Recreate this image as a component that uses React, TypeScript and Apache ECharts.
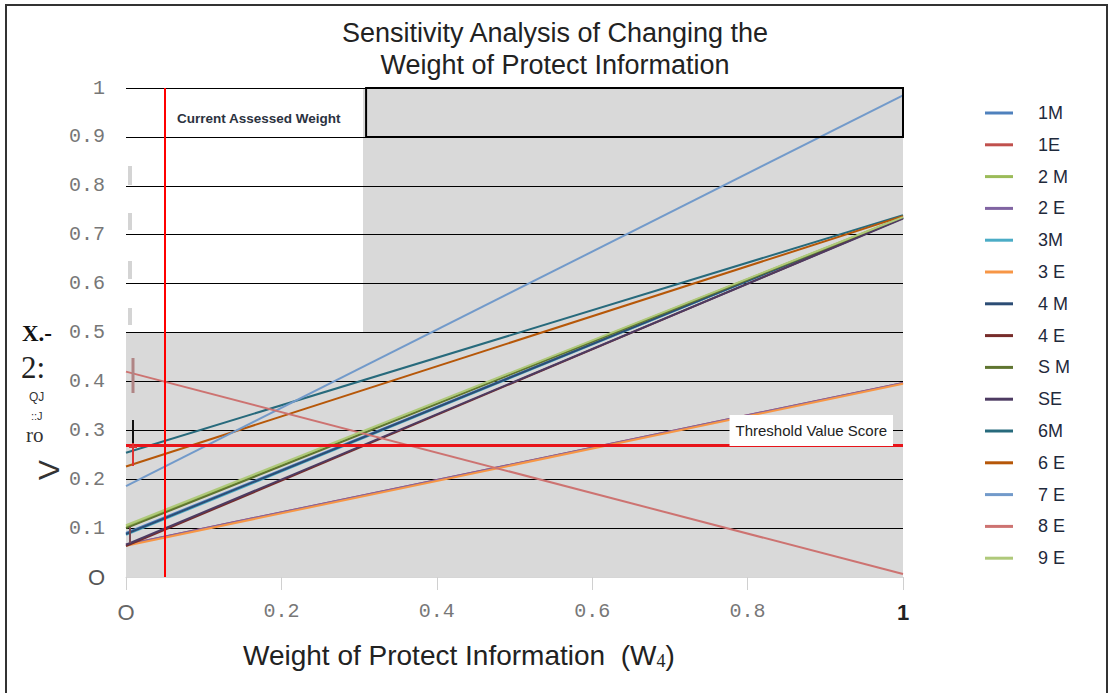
import React, { useEffect, useRef } from "react";
import * as echarts from "echarts";

// W4 values at which each line is evaluated
const weights = [0, 1];
const seriesNames = ["1M", "1E", "2 M", "2 E", "3M", "3 E", "4 M", "4 E", "S M", "SE", "6M", "6 E", "7 E", "8 E", "9 E"];
// value score at W4 = 0
const scoreAtZero = [0.09, 0.066, 0.103, 0.066, 0.086, 0.064, 0.088, 0.063, 0.1, 0.066, 0.254, 0.226, 0.186, 0.42, 0.106];
// value score at W4 = 1
const scoreAtOne = [0.735, 0.397, 0.736, 0.397, 0.735, 0.395, 0.735, 0.734, 0.735, 0.733, 0.74, 0.738, 0.985, 0.006, 0.736];
const seriesColors = ["#4F81BD", "#C0504D", "#9BBB59", "#8064A2", "#4BACC6", "#F79646", "#2C4D75", "#772C2A", "#5F7530", "#4D3B62", "#276A7C", "#B65708", "#729ACA", "#CD7371", "#AFC97A"];

const currentWeight = 0.048;
const thresholdScore = 0.266;
const grayLowerTop = 0.5;
const grayUpperLeft = 0.305;
const boxRange = [0.309, 1, 0.9, 1];

export default function App() {
  const ref = useRef<HTMLDivElement>(null);
  useEffect(() => {
    if (!ref.current) return;
    const chart = echarts.init(ref.current, null, { renderer: "svg" });
    const lineSeries = seriesNames.map((name, i) => ({
      name,
      type: "line",
      data: weights.map((w, k) => [w, k === 0 ? scoreAtZero[i] : scoreAtOne[i]]),
      symbol: "none",
      lineStyle: { width: 2, color: seriesColors[i] },
      itemStyle: { color: seriesColors[i] },
      z: 3,
    }));
    const sans = "Liberation Sans, Arial, sans-serif";
    const serif = "Liberation Serif, DejaVu Serif, serif";
    const mono = "Liberation Mono, DejaVu Sans Mono, monospace";
    const option: any = {
      animation: false,
      backgroundColor: "#ffffff",
      title: {
        text: "Sensitivity Analysis of Changing the\nWeight of Protect Information",
        left: "center",
        top: 12,
        textStyle: { fontFamily: sans, fontSize: 27, fontWeight: "normal", color: "#222", lineHeight: 32 },
      },
      legend: {
        data: seriesNames.map((n) => ({ name: n, icon: "rect" })),
        orient: "vertical",
        left: 980,
        top: 98,
        itemWidth: 28,
        itemHeight: 3,
        itemGap: 11.8,
        textStyle: { fontFamily: sans, fontSize: 18, color: "#1f2a3c", lineHeight: 20, padding: [0, 0, 0, 20] },
      },
      grid: { left: 126, right: 207, top: 88, bottom: 116, containLabel: false },
      xAxis: {
        type: "value",
        min: 0,
        max: 1,
        interval: 0.2,
        axisLine: { show: true, lineStyle: { color: "#d6d6d6", width: 1 } },
        axisTick: { show: true, length: 13, lineStyle: { color: "#d0d0d0" } },
        splitLine: { show: false },
        axisLabel: {
          margin: 24,
          fontFamily: mono,
          fontSize: 20,
          color: "#777",
          formatter: (v: number) => (v === 0 ? "{o|O}" : v === 1 ? "{b|1}" : v.toFixed(1)),
          rich: {
            b: { fontFamily: sans, fontWeight: "bold", fontSize: 22, color: "#222" },
            o: { fontFamily: sans, fontSize: 22, color: "#666" },
          },
        },
      },
      yAxis: {
        type: "value",
        min: 0,
        max: 1,
        interval: 0.1,
        axisLine: { show: false },
        axisTick: { show: false },
        splitLine: { show: true, lineStyle: { color: "#000", width: 1 } },
        axisLabel: {
          margin: 21,
          fontFamily: mono,
          fontSize: 20,
          color: "#777",
          formatter: (v: number) => (v === 0 ? "{o|O}" : v === 1 ? "1" : v.toFixed(1)),
          rich: { o: { fontFamily: sans, fontSize: 22, color: "#555" } },
        },
      },
      series: [
        {
          name: "bg",
          type: "line",
          data: [],
          silent: true,
          z: -1,
          markArea: {
            silent: true,
            z: -1,
            itemStyle: { color: "#d9d9d9" },
            data: [
              [{ coord: [0, 0] }, { coord: [1, grayLowerTop] }],
              [{ coord: [grayUpperLeft, grayLowerTop] }, { coord: [1, 1] }],
            ],
          },
        },
        ...lineSeries,
        {
          name: "markers",
          type: "line",
          data: [],
          silent: true,
          z: 6,
          markArea: {
            silent: true,
            z: 6,
            itemStyle: { color: "rgba(0,0,0,0)", borderColor: "#000", borderWidth: 2 },
            data: [[{ coord: [boxRange[0], boxRange[2]] }, { coord: [boxRange[1], boxRange[3]] }]],
          },
          markLine: {
            silent: true,
            symbol: "none",
            z: 6,
            data: [
              { xAxis: currentWeight, lineStyle: { color: "#ff0000", width: 2, type: "solid" }, label: { show: false } },
              {
                yAxis: thresholdScore,
                lineStyle: { color: "#e8141a", width: 3, type: "solid" },
                label: {
                  show: true,
                  position: "insideEndTop",
                  distance: [10, -1],
                  formatter: "Threshold Value Score",
                  backgroundColor: "#ffffff",
                  padding: [7, 6, 6, 6],
                  fontFamily: sans,
                  fontSize: 15,
                  lineHeight: 18,
                  color: "#222",
                },
              },
            ],
          },
        },
      ],
      graphic: [
        { type: "rect", shape: { x: 6, y: 5, width: 1101, height: 700 }, style: { fill: "none", stroke: "#333", lineWidth: 2 }, silent: true },
        { type: "text", left: 177, top: 111, style: { text: "Current Assessed Weight", font: "bold 13.5px " + sans, fill: "#2b3240" } },
        { type: "text", left: 243, top: 641, style: { text: "Weight of Protect Information  (W{s|4})", font: "28px " + sans, fill: "#222", rich: { s: { fontFamily: serif, fontSize: 18, padding: [11, 0, 0, 0], fill: "#222" } } } },
        // y axis title remnants
        { type: "text", left: 22, top: 322, style: { text: "X.-", font: "bold 23px " + serif, fill: "#111" } },
        { type: "text", left: 21, top: 352, style: { text: "2:", font: "31px " + serif, fill: "#222" } },
        { type: "text", left: 29, top: 391, style: { text: "QJ", font: "12px " + sans, fill: "#333" } },
        { type: "text", left: 31, top: 410, style: { text: "::J", font: "11px " + sans, fill: "#333" } },
        { type: "text", left: 26, top: 424, style: { text: "ro", font: "21px " + serif, fill: "#333" } },
        { type: "text", x: 48, y: 470, rotation: Math.PI / 2, style: { text: "V", font: "30px " + sans, fill: "#333", align: "center", verticalAlign: "middle" } },
        // marks near the axis
        { type: "line", shape: { x1: 130, y1: 166, x2: 130, y2: 185 }, style: { stroke: "#d4d4d4", lineWidth: 4 } },
        { type: "line", shape: { x1: 130, y1: 213, x2: 130, y2: 230 }, style: { stroke: "#d4d4d4", lineWidth: 4 } },
        { type: "line", shape: { x1: 130, y1: 261, x2: 130, y2: 279 }, style: { stroke: "#d4d4d4", lineWidth: 4 } },
        { type: "line", shape: { x1: 130, y1: 308, x2: 130, y2: 325 }, style: { stroke: "#d4d4d4", lineWidth: 4 } },
        { type: "line", shape: { x1: 133, y1: 358, x2: 133, y2: 393 }, style: { stroke: "#b08585", lineWidth: 3 }, z: 10 },
        { type: "line", shape: { x1: 133, y1: 420, x2: 133, y2: 443 }, style: { stroke: "#111", lineWidth: 2 }, z: 10 },
        { type: "line", shape: { x1: 133, y1: 443, x2: 133, y2: 466 }, style: { stroke: "#dd3333", lineWidth: 2 }, z: 10 },
        { type: "line", shape: { x1: 129, y1: 447, x2: 137, y2: 447 }, style: { stroke: "#dd3333", lineWidth: 2 }, z: 10 },
        { type: "line", shape: { x1: 130, y1: 527, x2: 130, y2: 543 }, style: { stroke: "#7a4a55", lineWidth: 2 }, z: 10 },
      ],
    };
    chart.setOption(option);
    return () => chart.dispose();
  }, []);
  return <div ref={ref} style={{ position: "absolute", left: 0, top: 0, width: 1110, height: 693, background: "#fff" }} />;
}
